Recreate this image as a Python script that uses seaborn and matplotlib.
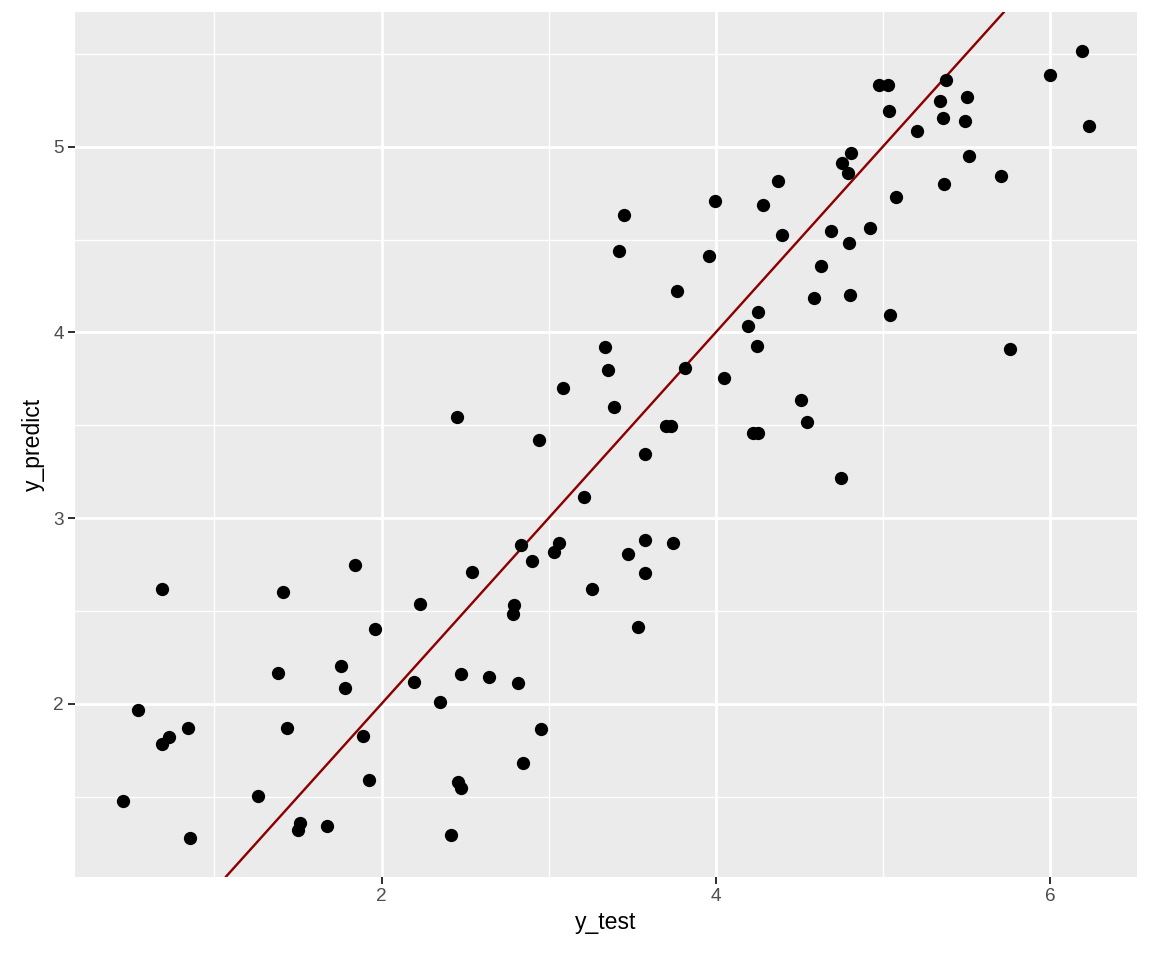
import numpy as np
import pandas as pd
import matplotlib
matplotlib.use('Agg')
import matplotlib.pyplot as plt
from matplotlib.ticker import MultipleLocator, AutoMinorLocator
import seaborn as sns

# hodnoty
y_test = [0.454, 0.545, 0.683, 0.685, 0.725, 0.843, 0.855, 1.262, 1.381, 1.411,
          1.435, 1.499, 1.509, 1.676, 1.756, 1.784, 1.840, 1.890, 1.924, 1.962,
          2.193, 2.231, 2.349, 2.417, 2.454, 2.460, 2.478, 2.476, 2.544, 2.644,
          2.795, 2.788, 2.817, 2.837, 2.846, 2.899, 2.943, 2.955, 3.033, 3.065,
          3.089, 3.212, 3.259, 3.340, 3.356, 3.390, 3.424, 3.450, 3.474, 3.536,
          3.576, 3.577, 3.579, 3.703, 3.735, 3.745, 3.769, 3.819, 3.962, 3.996,
          4.052, 4.196, 4.226, 4.252, 4.250, 4.256, 4.282, 4.372, 4.396, 4.513,
          4.547, 4.587, 4.633, 4.689, 4.750, 4.756, 4.792, 4.799, 4.804, 4.807,
          4.923, 4.980, 5.032, 5.036, 5.042, 5.078, 5.207, 5.345, 5.363, 5.365,
          5.377, 5.494, 5.503, 5.518, 5.710, 5.764, 6.001, 6.193, 6.233]
y_predict = [1.476, 1.965, 2.616, 1.782, 1.823, 1.872, 1.279, 1.503, 2.165, 2.603,
             1.872, 1.322, 1.357, 1.342, 2.202, 2.083, 2.746, 1.827, 1.592, 2.405,
             2.117, 2.535, 2.011, 1.292, 3.546, 1.580, 1.546, 2.162, 2.708, 2.142,
             2.530, 2.484, 2.110, 2.856, 1.681, 2.769, 3.422, 1.866, 2.816, 2.865,
             3.699, 3.112, 2.618, 3.921, 3.796, 3.598, 4.436, 4.634, 2.809, 2.412,
             2.881, 3.346, 2.703, 3.494, 3.497, 2.865, 4.223, 3.809, 4.414, 4.706,
             3.756, 4.032, 3.461, 3.461, 3.928, 4.111, 4.688, 4.816, 4.524, 3.636,
             3.519, 4.185, 4.358, 4.546, 3.216, 4.914, 4.861, 4.483, 4.203, 4.964,
             4.564, 5.331, 5.333, 5.195, 4.096, 4.730, 5.086, 5.245, 5.155, 4.800,
             5.357, 5.141, 5.266, 4.949, 4.845, 3.910, 5.384, 5.514, 5.114]

df = pd.DataFrame({'y_test': y_test, 'y_predict': y_predict})

# vzhled podobný ggplot2
sns.set_theme(style='darkgrid', rc={
    'axes.facecolor': '#EBEBEB',
    'grid.color': 'white',
    'axes.edgecolor': 'none',
    'xtick.bottom': True,
    'ytick.left': True,
    'xtick.color': '#333333',
    'ytick.color': '#333333',
    'xtick.labelcolor': '#4D4D4D',
    'ytick.labelcolor': '#4D4D4D',
    'xtick.major.size': 3.5,
    'ytick.major.size': 3.5,
    'xtick.major.width': 1.0,
    'ytick.major.width': 1.0,
})
plt.rcParams['font.family'] = ['Liberation Sans', 'DejaVu Sans']

fig, ax = plt.subplots(figsize=(8, 6.6667), dpi=144)
fig.subplots_adjust(left=0.0651, right=0.987, top=0.9875, bottom=0.0865)

sns.scatterplot(data=df, x='y_test', y='y_predict', ax=ax, color='black',
                s=44, linewidth=0, zorder=3)

# zafixujeme rozsah os podle bodů, aby ho čára y = x nezměnila
ax.set_xlim(ax.get_xlim())
ax.set_ylim(ax.get_ylim())
ax.axline((2, 2), slope=1, color='#8B0000', linewidth=1.2, zorder=2)

# mřížka - hlavní i vedlejší čáry
ax.xaxis.set_major_locator(MultipleLocator(2))
ax.yaxis.set_major_locator(MultipleLocator(1))
ax.xaxis.set_minor_locator(AutoMinorLocator(2))
ax.yaxis.set_minor_locator(AutoMinorLocator(2))
ax.grid(which='major', color='white', linewidth=1.4)
ax.grid(which='minor', color='white', linewidth=0.7)
ax.tick_params(which='minor', length=0)
ax.tick_params(which='major', labelsize=9.5, pad=2)

ax.set_xlabel('y_test', fontsize=11.5, color='black', labelpad=3)
ax.set_ylabel('y_predict', fontsize=11.5, color='black', labelpad=4)

fig.savefig('out.png', dpi=144)
